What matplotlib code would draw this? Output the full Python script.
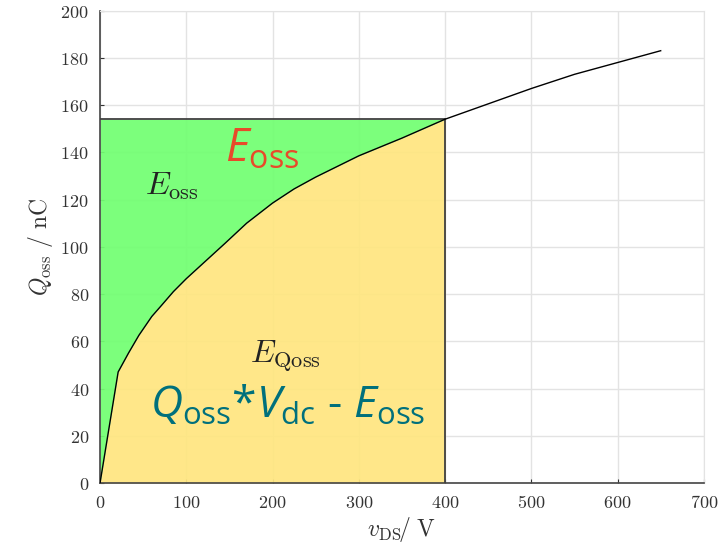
import matplotlib
matplotlib.use("Agg")
import matplotlib.pyplot as plt
import numpy as np

# Output charge curve Q_oss(v_DS)
v_ds = [0, 21, 33, 45, 60, 72, 85, 100, 118, 145, 170, 200, 225, 250, 300,
        350, 400, 450, 500, 550, 600, 650]
q_oss = [0, 47, 55, 62.5, 70.5, 75.5, 81, 86.5, 92.5, 101.5, 110, 118.5,
         124.5, 129.5, 138.5, 146, 154, 160.5, 167, 173, 178, 183]

v_dc = 400          # operating voltage for the shaded areas
x_ticks = [0, 100, 200, 300, 400, 500, 600, 700]
y_ticks = [0, 20, 40, 60, 80, 100, 120, 140, 160, 180, 200]

plt.rcParams["mathtext.fontset"] = "custom"
plt.rcParams["mathtext.rm"] = "Open Sans"
plt.rcParams["mathtext.it"] = "Open Sans:italic"
plt.rcParams["mathtext.bf"] = "Open Sans:bold"

fig = plt.figure(figsize=(7.27, 5.5), dpi=100)
ax = fig.add_axes([0.1376, 0.1218, 0.8305, 0.859])

v = np.array(v_ds, dtype=float)
q = np.array(q_oss, dtype=float)
mask = v <= v_dc
vm, qm = v[mask], q[mask]
q_top = np.interp(v_dc, v, q)

# Areas: E_Qoss under the curve, E_oss between curve and Q_oss(V_dc)
ax.fill_between(vm, 0, qm, color="#ffe680", alpha=0.93, lw=0, zorder=1)
ax.fill_between(vm, qm, q_top, color="#72ff72", alpha=0.93, lw=0, zorder=1)

# Rectangle boundary at Q_oss(V_dc) and V_dc
ax.plot([0, v_dc], [q_top, q_top], color="#404040", lw=1.3, zorder=3)
ax.plot([v_dc, v_dc], [0, q_top], color="#404040", lw=1.3, zorder=3)

ax.plot(v, q, color="black", lw=1.0, zorder=4)

ax.set_xlim(0, 700)
ax.set_ylim(0, 200)
ax.set_xticks(x_ticks)
ax.set_yticks(y_ticks)
ax.set_xticklabels([f"${t}$" for t in x_ticks])
ax.set_yticklabels([f"${t}$" for t in y_ticks])
for lab in ax.get_xticklabels() + ax.get_yticklabels():
    lab.set_math_fontfamily("cm")
    lab.set_fontsize(13)
    lab.set_color("#333333")

ax.set_axisbelow(True)
ax.grid(True, color="#e3e3e3", lw=1.0)
ax.tick_params(direction="in", length=3, width=0.8, color="#333333", pad=8)
for side in ("top", "right"):
    ax.spines[side].set_color("#e3e3e3")
for side in ("left", "bottom"):
    ax.spines[side].set_color("#444444")
    ax.spines[side].set_linewidth(1.2)

ax.set_xlabel(r"$v_{\mathrm{DS}}\!/\ \mathrm{V}$", fontsize=17, math_fontfamily="cm",
              color="#333333", labelpad=2)
ax.set_ylabel(r"$Q_{\mathrm{oss}}\ /\ \mathrm{nC}$", fontsize=17, math_fontfamily="cm",
              color="#333333", labelpad=4)

ax.text(52, 122, r"$E_{\mathrm{oss}}$", fontsize=23, math_fontfamily="cm",
        color="#222222", ha="left", va="baseline", zorder=5)
ax.text(174, 51, r"$E_{\mathrm{Qoss}}$", fontsize=23, math_fontfamily="cm",
        color="#222222", ha="left", va="baseline", zorder=5)
ax.text(145, 136, r"$E_{\mathrm{oss}}$", fontsize=33, math_fontfamily="custom",
        color="#e84a2a", ha="left", va="baseline", zorder=5)
ax.text(58, 27.5, r"$Q_{\mathrm{oss}}$*$V_{\mathrm{dc}}$ - $E_{\mathrm{oss}}$",
        fontsize=32, family="Open Sans", math_fontfamily="custom",
        color="#00707c", ha="left", va="baseline", zorder=5)

fig.savefig("out.png", dpi=100)
